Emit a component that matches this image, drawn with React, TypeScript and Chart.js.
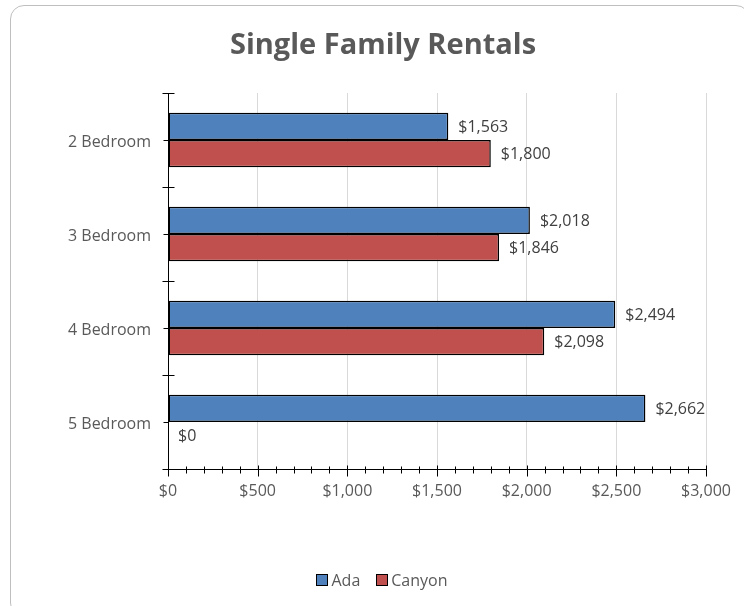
import React, { useEffect, useRef } from "react";
import { Chart, registerables } from "chart.js";

Chart.register(...registerables);

const titleText = "Single Family Rentals";
const categories = ["2 Bedroom", "3 Bedroom", "4 Bedroom", "5 Bedroom"];
const seriesNames = ["Ada", "Canyon"];
const adaValues = [1563, 2018, 2494, 2662];
const canyonValues = [1800, 1846, 2098, 0];
const seriesColors = ["#4f81bd", "#c0504d"];
const xMin = 0;
const xMax = 3000;
const xMajorStep = 500;
const xMinorStep = 100;

const FONT = "'Open Sans', 'DejaVu Sans', sans-serif";
const money = (v: number) => "$" + Math.round(v).toLocaleString("en-US");

const decorPlugin = {
  id: "decor",
  afterDatasetsDraw(chart: any) {
    const ctx = chart.ctx;
    const area = chart.chartArea;
    const xs = chart.scales.x;
    ctx.save();
    // axes
    ctx.strokeStyle = "#000000";
    ctx.lineWidth = 1;
    ctx.beginPath();
    const lx = Math.round(area.left) + 0.5;
    const by = Math.round(area.bottom) + 0.5;
    ctx.moveTo(lx, area.top);
    ctx.lineTo(lx, area.bottom);
    ctx.moveTo(area.left, by);
    ctx.lineTo(area.right, by);
    // y boundary ticks (crossing) and center ticks (outside)
    const n = categories.length;
    const band = (area.bottom - area.top) / n;
    for (let i = 0; i <= n; i++) {
      const y = Math.round(area.top + i * band) + 0.5;
      ctx.moveTo(lx - 6, y);
      ctx.lineTo(lx + 6, y);
    }
    for (let i = 0; i < n; i++) {
      const y = Math.round(area.top + (i + 0.5) * band) + 0.5;
      ctx.moveTo(lx - 5, y);
      ctx.lineTo(lx, y);
    }
    // x ticks
    for (let v = xMin; v <= xMax; v += xMinorStep) {
      const x = Math.round(xs.getPixelForValue(v)) + 0.5;
      if (v % xMajorStep === 0) {
        ctx.moveTo(x, by - 4);
        ctx.lineTo(x, by + 7);
      } else {
        ctx.moveTo(x, by - 3);
        ctx.lineTo(x, by + 4);
      }
    }
    ctx.stroke();

    // data labels
    ctx.font = "16px " + FONT;
    ctx.fillStyle = "#404040";
    ctx.textAlign = "left";
    ctx.textBaseline = "middle";
    chart.data.datasets.forEach((ds: any, di: number) => {
      const meta = chart.getDatasetMeta(di);
      meta.data.forEach((el: any, i: number) => {
        const val = ds.data[i];
        ctx.fillText(money(val), el.x + 10, el.y + 1);
      });
    });

    // title
    ctx.font = "bold 29px " + FONT;
    ctx.fillStyle = "#595959";
    ctx.textAlign = "center";
    ctx.textBaseline = "middle";
    ctx.fillText(titleText, 383, 46);

    // legend
    ctx.font = "16px " + FONT;
    const items = chart.data.datasets.map((ds: any) => ({
      label: ds.label,
      color: ds.backgroundColor,
      w: ctx.measureText(ds.label).width,
    }));
    const box = 12;
    const gapBoxText = 3;
    const gapItems = 16;
    let total = 0;
    items.forEach((it: any, i: number) => {
      total += box + gapBoxText + it.w + (i < items.length - 1 ? gapItems : 0);
    });
    let x = 382 - total / 2;
    const cy = 580;
    ctx.textAlign = "left";
    ctx.textBaseline = "middle";
    items.forEach((it: any) => {
      ctx.fillStyle = it.color;
      ctx.fillRect(Math.round(x), cy - 6, box, box);
      ctx.strokeStyle = "#000";
      ctx.lineWidth = 1;
      ctx.strokeRect(Math.round(x) + 0.5, cy - 6 + 0.5, box - 1, box - 1);
      x += box + gapBoxText;
      ctx.fillStyle = "#595959";
      ctx.fillText(it.label, x, cy + 1);
      x += it.w + gapItems;
    });
    ctx.restore();
  },
};

export default function App() {
  const ref = useRef<HTMLCanvasElement | null>(null);
  useEffect(() => {
    if (!ref.current) return;
    const chart = new Chart(ref.current, {
      type: "bar",
      data: {
        labels: categories,
        datasets: [
          {
            label: seriesNames[0],
            data: adaValues,
            backgroundColor: seriesColors[0],
            borderColor: "#000000",
            borderWidth: 1.5,
            borderSkipped: false,
            categoryPercentage: 0.58,
            barPercentage: 1.0,
          },
          {
            label: seriesNames[1],
            data: canyonValues,
            backgroundColor: seriesColors[1],
            borderColor: "#000000",
            borderWidth: 1.5,
            borderSkipped: false,
            categoryPercentage: 0.58,
            barPercentage: 1.0,
          },
        ],
      },
      options: {
        indexAxis: "y",
        responsive: false,
        animation: false,
        maintainAspectRatio: false,
        layout: { padding: { top: 93, right: 38, bottom: 0, left: 0 } },
        plugins: {
          legend: { display: false },
          title: { display: false },
          tooltip: { enabled: false },
        },
        scales: {
          y: {
            type: "category",
            grid: { display: false, drawTicks: false },
            border: { display: false },
            ticks: {
              color: "#595959",
              font: { family: FONT, size: 16 },
              padding: 17,
              labelOffset: 2,
            },
            afterFit: (s: any) => {
              s.width = 168;
            },
          },
          x: {
            type: "linear",
            min: xMin,
            max: xMax,
            grid: { color: "#d9d9d9", lineWidth: 1, drawTicks: false },
            border: { display: false },
            ticks: {
              stepSize: xMajorStep,
              color: "#595959",
              font: { family: FONT, size: 16 },
              padding: 13,
              callback: (v: any) => money(Number(v)),
            },
            afterFit: (s: any) => {
              s.height = 606 - 469;
            },
          },
        },
      },
      plugins: [decorPlugin],
    });
    return () => chart.destroy();
  }, []);

  return (
    <div style={{ position: "fixed", left: 0, top: 0, width: 744, height: 606, background: "#fff", overflow: "hidden" }}>
      <div
        style={{
          position: "absolute",
          left: 10,
          top: 5,
          width: 740,
          height: 612,
          border: "1px solid #bfbfbf",
          borderRadius: 14,
          boxSizing: "border-box",
        }}
      />
      <canvas ref={ref} width={744} height={606} style={{ position: "absolute", left: 0, top: 0, display: "block" }} />
    </div>
  );
}
